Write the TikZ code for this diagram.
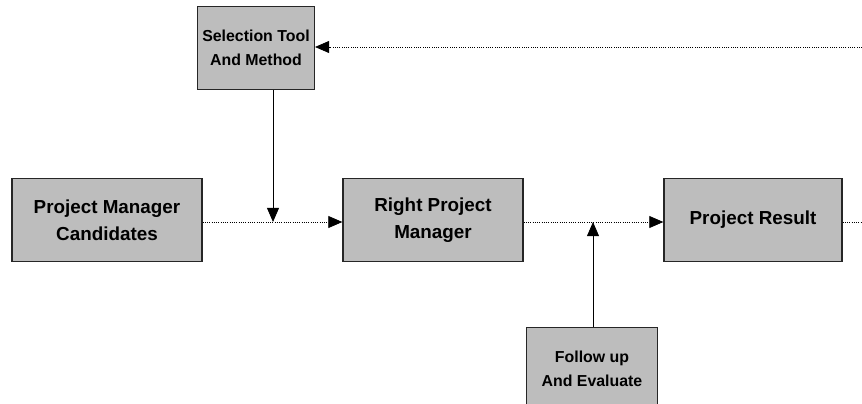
\documentclass[tikz,border=0pt]{standalone}
\usepackage{fontspec}
\setmainfont{Liberation Sans}
\usepackage{tikz}
\usetikzlibrary{arrows.meta}

\begin{document}
\begin{tikzpicture}[x=0.25mm,y=-0.25mm,
  box/.style = {draw=black!85, line width=0.9pt, fill=black!26, align=center,
                font=\bfseries\fontsize{13.4}{19}\selectfont, minimum height=83*0.25mm},
  small/.style = {box, font=\bfseries\fontsize{11.3}{17}\selectfont},
  flow/.style = {densely dotted, line width=0.6pt},
  tip/.style = {-{Triangle[length=10pt,width=8.5pt]}}]
\useasboundingbox (0,0) rectangle (862,404);
\node[small, minimum width=107*0.25mm] (sel) at (256,48) {Selection Tool\\And Method};
\node[box, minimum width=190*0.25mm] (cand) at (107,220) {Project Manager\\Candidates};
\node[box, minimum width=180*0.25mm] (rpm) at (433,220) {Right Project\\Manager};
\node[box, minimum width=178*0.25mm] (res) at (753,220) {Project Result};
\node[small, minimum width=131*0.25mm] (fol) at (592,369) {Follow up\\And Evaluate};
\coordinate (j1) at (273,222);
\coordinate (j2) at (593,222);
\coordinate (out) at (862,222);
\coordinate (back) at (862,47);
\draw[flow, tip] (cand.east |- j1) -- (rpm.west |- j1);
\draw[flow, tip] (rpm.east |- j2) -- (res.west |- j2);
\draw[flow] (res.east |- out) -- (out);
\draw[flow, tip] (back) -- (sel.east |- back);
\draw[line width=0.6pt, tip] (sel.south -| j1) -- (j1);
\draw[line width=0.6pt, tip] (fol.north -| j2) -- (j2);
\end{tikzpicture}
\end{document}
